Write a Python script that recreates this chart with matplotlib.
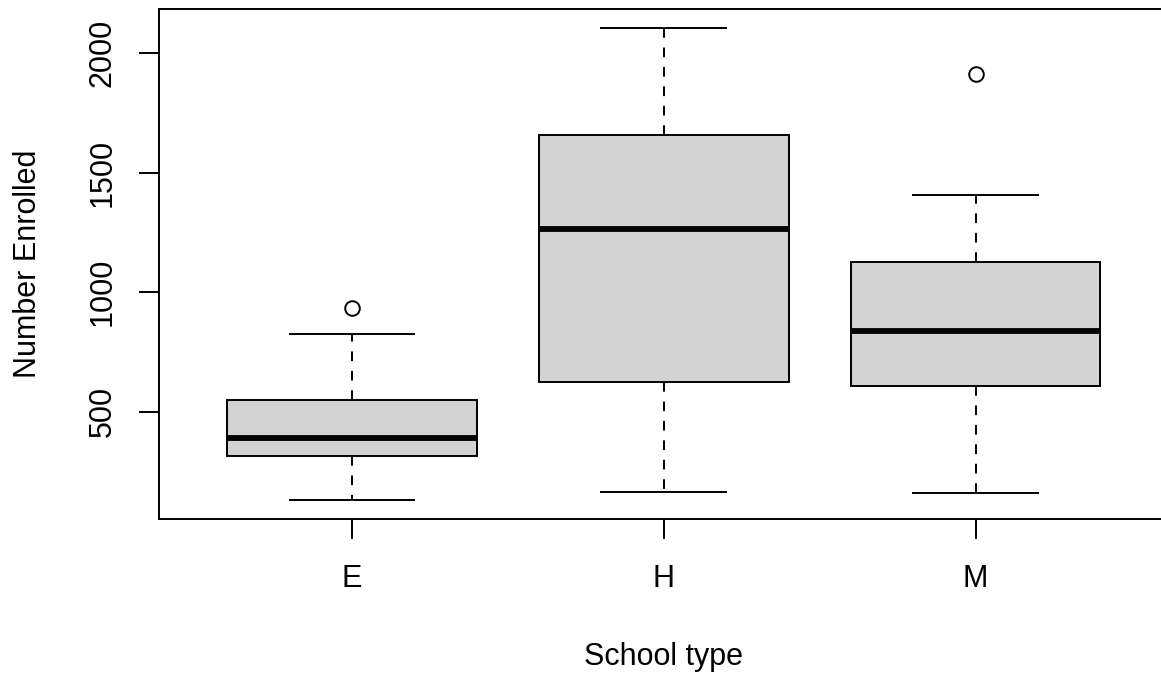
import matplotlib
matplotlib.use("Agg")
import matplotlib.pyplot as plt

plt.rcParams['font.family'] = ['Liberation Sans', 'DejaVu Sans']

# boxplot statistics (Number Enrolled by school type)
school_types = ["E", "H", "M"]
whisker_low = [131, 165, 160]
q1 = [315, 626, 607]
medians = [391, 1264, 836]
q3 = [551, 1658, 1127]
whisker_high = [827, 2107, 1406]
outliers = [[934], [], [1911]]

stats = []
for i, name in enumerate(school_types):
    stats.append({
        "label": name,
        "whislo": whisker_low[i],
        "q1": q1[i],
        "med": medians[i],
        "q3": q3[i],
        "whishi": whisker_high[i],
        "fliers": outliers[i],
    })

fig = plt.figure(figsize=(11.61, 6.73), dpi=100)
ax = fig.add_axes([0.1367, 0.229, 0.8702, 0.758])

lw = 1.4
ax.bxp(stats, positions=[1, 2, 3], widths=0.8, capwidths=0.4,
       patch_artist=True,
       boxprops=dict(facecolor="#d3d3d3", edgecolor="black", linewidth=lw),
       medianprops=dict(color="black", linewidth=4.2, solid_capstyle="butt"),
       whiskerprops=dict(color="black", linewidth=lw, linestyle=(0, (5, 5))),
       capprops=dict(color="black", linewidth=lw),
       flierprops=dict(marker="o", markerfacecolor="none", markeredgecolor="black",
                       markersize=10.5, markeredgewidth=lw))

ax.set_xlim(0.38, 3.62)
ax.set_ylim(52, 2186)
ax.set_yticks([500, 1000, 1500, 2000])
ax.set_xticks([1, 2, 3])
ax.set_xticklabels(school_types)

for s in ax.spines.values():
    s.set_linewidth(lw)

ax.tick_params(axis="both", direction="out", length=14.4, width=lw,
               labelsize=22)
ax.tick_params(axis="x", pad=18)
ax.tick_params(axis="y", pad=15, labelrotation=90)
for t in ax.get_yticklabels():
    t.set_va("center")

ax.set_xlabel("School type", fontsize=22)
ax.set_ylabel("Number Enrolled", fontsize=22)
ax.xaxis.set_label_coords(0.5, -0.271)
ax.xaxis.label.set_va("center")
ax.yaxis.set_label_coords(-0.1293, 0.5)
ax.yaxis.label.set_va("center")

fig.savefig("out.png", dpi=100)
